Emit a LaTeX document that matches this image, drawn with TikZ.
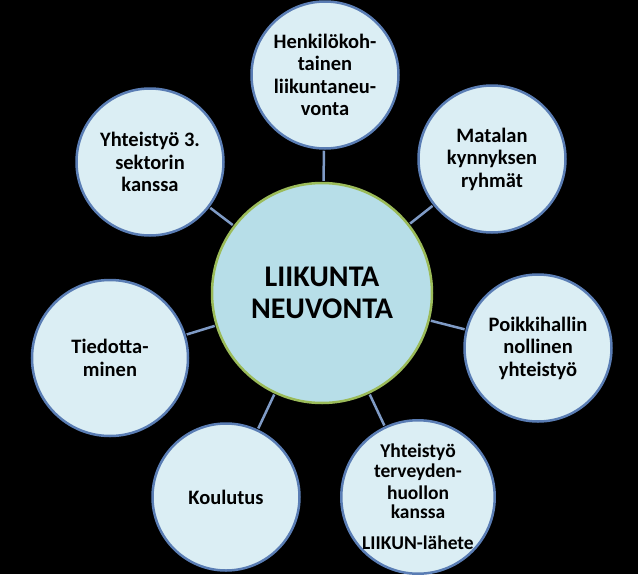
\documentclass[tikz,border=0pt]{standalone}
\usepackage{fontspec}
\setmainfont{Carlito}
\definecolor{leaffill}{HTML}{DBEEF4}
\definecolor{leafline}{HTML}{5A7DB4}
\definecolor{hubfill}{HTML}{B7DEE8}
\definecolor{hubline}{HTML}{9BBB59}
\definecolor{linkline}{HTML}{7F9BC6}
\begin{document}
\begin{tikzpicture}[x=1pt, y=-1pt,
    leaf/.style={circle, draw=leafline, line width=2.5pt, fill=leaffill, minimum size=147pt, inner sep=0pt,
                 align=center, font=\fontsize{20.5}{22.5}\selectfont\bfseries},
    hub/.style={circle, draw=hubline, line width=2.5pt, fill=hubfill, minimum size=220pt, inner sep=0pt,
                align=center, font=\fontsize{30}{32}\selectfont\bfseries},
    link/.style={draw=linkline, line width=2.5pt, shorten <=1pt, shorten >=1pt}]
        \fill[black] (0,0) rectangle (638,574);

        \node[hub]  at (322, 293)  (neuvonta)  {LIIKUNTA\\NEUVONTA};

        \node[leaf] at (325, 75)   (henk)      {Henkilökoh-\\tainen\\liikuntaneu-\\vonta};
        \node[leaf] at (492, 159)  (matala)    {Matalan\\kynnyksen\\ryhmät};
        \node[leaf] at (538, 348)  (poikki)    {Poikkihallin\\nollinen\\yhteistyö};
        \node[leaf, minimum size=150pt, font=\fontsize{19.5}{20}\selectfont\bfseries] at (418, 497)  (terveys)
            {Yhteistyö\\terveyden-\\[2pt]huollon\\[-1pt]kanssa\\[11pt]LIIKUN-lähete};
        \node[leaf] at (226, 497)  (koulutus)  {Koulutus};
        \node[leaf, minimum size=156pt] at (110, 358)  (tiedotus)  {Tiedotta-\\minen};
        \node[leaf] at (150, 162)  (sektori)   {Yhteistyö 3.\\sektorin\\kanssa};

        \draw[link] (neuvonta) -- (henk);
        \draw[link] (neuvonta) -- (matala);
        \draw[link] (neuvonta) -- (poikki);
        \draw[link] (neuvonta) -- (terveys);
        \draw[link] (neuvonta) -- (koulutus);
        \draw[link] (neuvonta) -- (tiedotus);
        \draw[link] (neuvonta) -- (sektori);
      \end{tikzpicture}
\end{document}
